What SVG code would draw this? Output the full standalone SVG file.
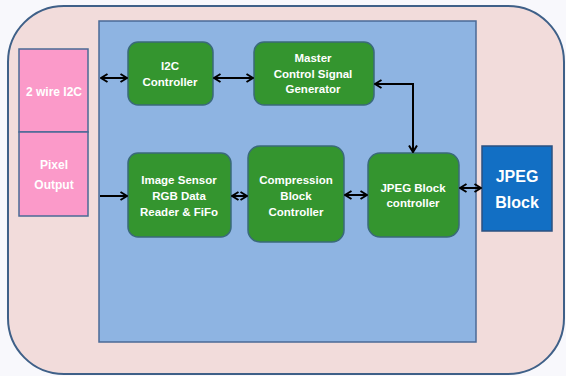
<svg xmlns="http://www.w3.org/2000/svg" width="566" height="376" viewBox="0 0 566 376">
<style>
.t{font-family:"Liberation Sans",Arial,sans-serif;font-weight:bold;fill:#ffffff;text-anchor:middle;font-size:11.5px}
.s{font-size:12px}
.b{font-size:16px}
.g{fill:#34952f;stroke:#3a6a7a;stroke-width:1.5}
.p{fill:#fb9ac9;stroke:#4a6a95;stroke-width:1.5}
.c{fill:none;stroke:#000;stroke-width:2}
</style>
<defs>
<marker id="ah" viewBox="0 0 10 10" refX="9" refY="5" markerWidth="10" markerHeight="10" markerUnits="userSpaceOnUse" orient="auto-start-reverse">
<path d="M2.5,1 L9,5 L2.5,9" fill="none" stroke="#000" stroke-width="2"/>
</marker>
</defs>
<rect x="0" y="0" width="566" height="376" fill="#f8f8fc"/>
<g id="outer">
<rect x="8" y="6" width="556" height="368" rx="56" ry="56" fill="#f2dcdb" stroke="#3f6088" stroke-width="2"/>
</g>
<g id="core">
<rect x="99" y="21" width="377" height="321" fill="#8eb4e2" stroke="#4b6a96" stroke-width="1.5"/>
</g>
<g id="i2c-port">
<rect class="p" x="19" y="49" width="69" height="83"/>
<text class="t s" x="54" y="96">2 wire I2C</text>
</g>
<g id="pixel-port">
<rect class="p" x="19" y="132" width="69" height="84"/>
<text class="t s" x="54" y="169">Pixel</text>
<text class="t s" x="54" y="189">Output</text>
</g>
<g id="i2c-ctrl">
<rect class="g" x="128" y="42" width="85" height="63" rx="10"/>
<text class="t" x="170" y="70">I2C</text>
<text class="t" x="170" y="86">Controller</text>
</g>
<g id="master">
<rect class="g" x="254" y="42" width="120" height="63" rx="10"/>
<text class="t" x="313" y="62">Master</text>
<text class="t" x="313" y="78">Control Signal</text>
<text class="t" x="313" y="93">Generator</text>
</g>
<g id="sensor">
<rect class="g" x="128" y="153" width="103" height="84" rx="10"/>
<text class="t" x="179" y="184">Image Sensor</text>
<text class="t" x="179" y="200">RGB Data</text>
<text class="t" x="179" y="216">Reader &amp; FiFo</text>
</g>
<g id="compression">
<rect class="g" x="248" y="146" width="96" height="96" rx="12"/>
<text class="t" x="296" y="184">Compression</text>
<text class="t" x="296" y="200">Block</text>
<text class="t" x="296" y="216">Controller</text>
</g>
<g id="jpeg-ctrl">
<rect class="g" x="368" y="153" width="91" height="84" rx="12"/>
<text class="t" x="413" y="192">JPEG Block</text>
<text class="t" x="413" y="207">controller</text>
</g>
<g id="jpeg-block">
<rect x="482" y="146" width="70" height="85" fill="#126fc4" stroke="#2d5080" stroke-width="1.5"/>
<text class="t b" x="517" y="182">JPEG</text>
<text class="t b" x="517" y="208">Block</text>
</g>
<g id="connectors">
<line class="c" x1="101" y1="78" x2="127" y2="78" marker-start="url(#ah)" marker-end="url(#ah)"/>
<line class="c" x1="214" y1="78" x2="253" y2="78" marker-start="url(#ah)" marker-end="url(#ah)"/>
<polyline class="c" points="375,84 413,84 413,152" marker-start="url(#ah)" marker-end="url(#ah)"/>
<line class="c" x1="100" y1="196" x2="127" y2="196" marker-end="url(#ah)"/>
<line class="c" x1="232" y1="196" x2="247" y2="196" marker-start="url(#ah)" marker-end="url(#ah)"/>
<line class="c" x1="345" y1="195" x2="367" y2="195" marker-start="url(#ah)" marker-end="url(#ah)"/>
<line class="c" x1="460" y1="188" x2="481" y2="188" marker-start="url(#ah)" marker-end="url(#ah)"/>
</g>
</svg>
